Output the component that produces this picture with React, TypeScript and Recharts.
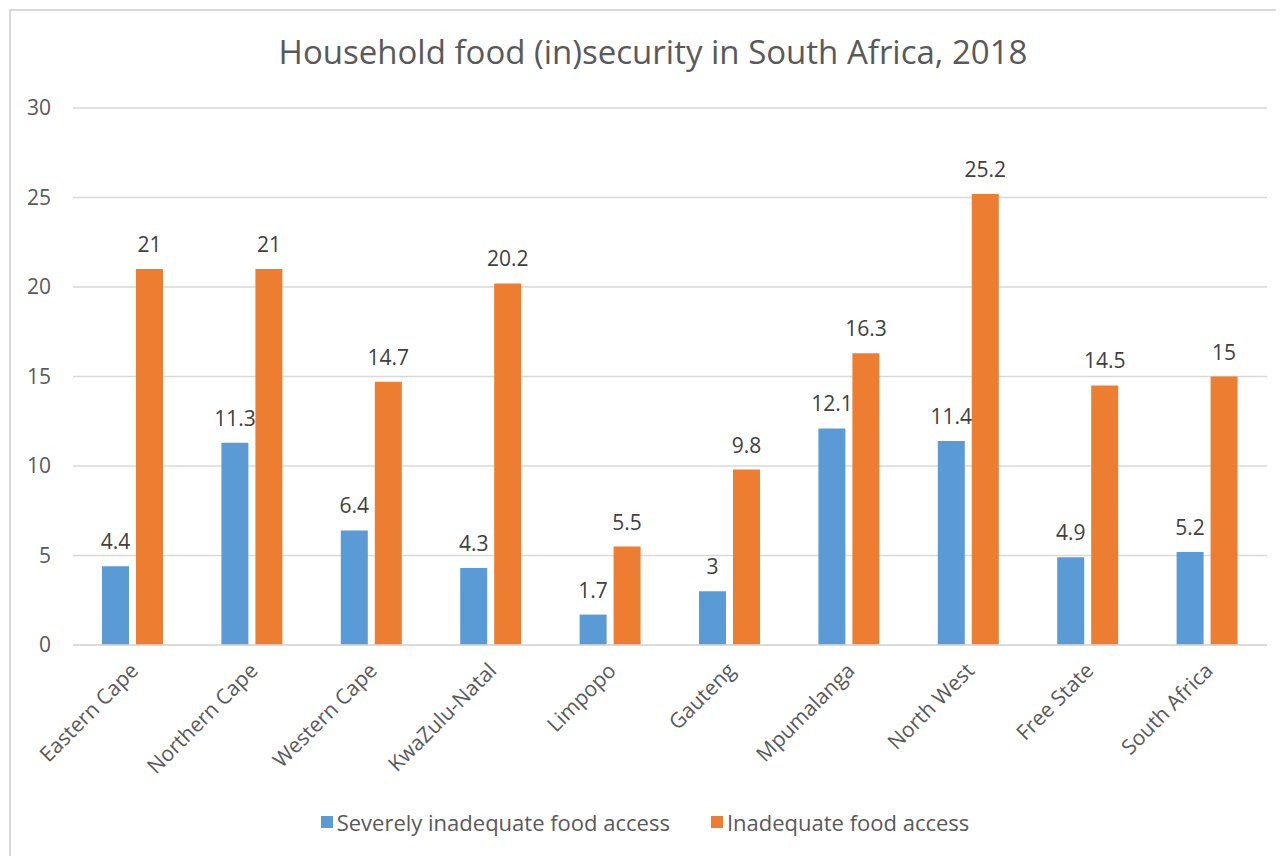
import React from 'react';
import { BarChart, Bar, XAxis, YAxis, CartesianGrid, Legend, LabelList } from 'recharts';

const provinces = [
  'Eastern Cape',
  'Northern Cape',
  'Western Cape',
  'KwaZulu-Natal',
  'Limpopo',
  'Gauteng',
  'Mpumalanga',
  'North West',
  'Free State',
  'South Africa',
];
const severelyInadequate = [4.4, 11.3, 6.4, 4.3, 1.7, 3, 12.1, 11.4, 4.9, 5.2];
const inadequate = [21, 21, 14.7, 20.2, 5.5, 9.8, 16.3, 25.2, 14.5, 15];
const yTicks = [0, 5, 10, 15, 20, 25, 30];

const data = provinces.map((name, i) => ({
  name,
  severe: severelyInadequate[i],
  inadequate: inadequate[i],
}));

const font = '"Open Sans", "Noto Sans", sans-serif';
const textColor = '#595959';
const fs = 21;

// rotated category labels, text ends at the tick
const AngledTick = (props: any) => {
  const { x, y, payload } = props;
  return (
    <g transform={`translate(${x + 2},${y + 14})`}>
      <text
        x={0}
        y={0}
        dy={7}
        textAnchor="end"
        transform="rotate(-45)"
        fill={textColor}
        fontSize={fs}
        fontFamily={font}
      >
        {payload.value}
      </text>
    </g>
  );
};

// keep series order as in the chart (Recharts 3 sorts by name otherwise)
const LegendContent = (props: any) => {
  const { payload } = props;
  const order = ['Severely inadequate food access', 'Inadequate food access'];
  const items = [...(payload || [])].sort((a, b) => order.indexOf(a.value) - order.indexOf(b.value));
  return (
    <div style={{ height: 30, display: 'flex', justifyContent: 'center', alignItems: 'center', gap: 41 }}>
      {items.map((entry: any) => (
        <div key={entry.value} style={{ display: 'flex', alignItems: 'center', gap: 4 }}>
          <span style={{ width: 12, height: 12, background: entry.color, display: 'inline-block' }} />
          <span style={{ color: textColor, fontSize: 22, fontFamily: font }}>{entry.value}</span>
        </div>
      ))}
    </div>
  );
};

const App = () => {
  return (
    <div style={{ position: 'relative', width: 1276, height: 848, fontFamily: font }}>
      <style>{`body { overflow: hidden; }`}</style>
      <div
        style={{
          position: 'absolute',
          left: 1,
          top: 1,
          width: 1300,
          height: 870,
          border: '2px solid #d9d9d9',
          boxSizing: 'border-box',
        }}
      />
      <div
        style={{
          position: 'absolute',
          left: 0,
          width: 1290,
          top: 21,
          textAlign: 'center',
          fontSize: 33,
          color: textColor,
        }}
      >
        Household food (in)security in South Africa, 2018
      </div>
      <BarChart
        width={1276}
        height={848}
        data={data}
        margin={{ top: 100, right: 17, bottom: 19, left: 15 }}
        barSize={27}
        barGap={7}
      >
        <CartesianGrid vertical={false} stroke="#d9d9d9" strokeWidth={1.5} />
        <XAxis
          dataKey="name"
          interval={0}
          height={162}
          tickLine={false}
          axisLine={{ stroke: '#d9d9d9', strokeWidth: 1.5 }}
          tick={<AngledTick />}
        />
        <YAxis
          domain={[0, 30]}
          ticks={yTicks}
          width={50}
          tickLine={false}
          axisLine={false}
          tickMargin={16}
          tick={{ fill: textColor, fontSize: fs, fontFamily: font }}
        />
        <Legend verticalAlign="bottom" content={<LegendContent />} />
        <Bar dataKey="severe" name="Severely inadequate food access" fill="#5B9BD5" isAnimationActive={false}>
          <LabelList dataKey="severe" position="top" offset={17} fill="#404040" fontSize={fs} fontFamily={font} />
        </Bar>
        <Bar dataKey="inadequate" name="Inadequate food access" fill="#ED7D31" isAnimationActive={false}>
          <LabelList dataKey="inadequate" position="top" offset={17} fill="#404040" fontSize={fs} fontFamily={font} />
        </Bar>
      </BarChart>
    </div>
  );
};

export default App;
